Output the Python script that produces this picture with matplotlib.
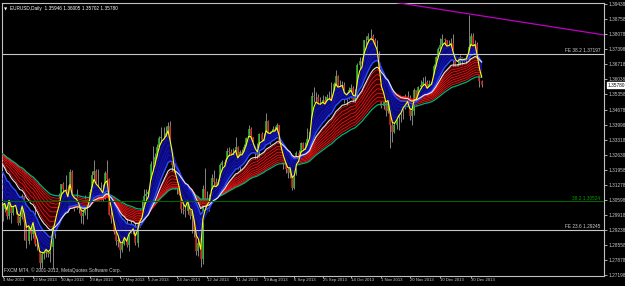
import numpy as np
import pandas as pd
import matplotlib
matplotlib.use("Agg")
import matplotlib.pyplot as plt
import matplotlib.transforms as mtransforms

plt.rcParams['font.family'] = ['Liberation Sans', 'DejaVu Sans']

symbol = "EURUSD,Daily"

# daily closes Jan 2 - Mar 1 2013, only used to warm up the averages
warmup_close = [
    1.3190, 1.3050, 1.3070,
    1.3115, 1.3080, 1.3070, 1.3275, 1.3345,
    1.3365, 1.3290, 1.3285, 1.3380, 1.3315,
    1.3315, 1.3320, 1.3310, 1.3385, 1.3460,
    1.3450, 1.3470, 1.3560, 1.3575, 1.3640,
    1.3520, 1.3525, 1.3525, 1.3400, 1.3365,
    1.3400, 1.3450, 1.3455, 1.3360, 1.3365,
    1.3360, 1.3395, 1.3280, 1.3190, 1.3190,
    1.3060, 1.3060, 1.3130, 1.3060, 1.3020,
]

# daily bars 4 Mar 2013 - 6 Jan 2014, one row per week
first_open = 1.3015
high = [
    1.3055, 1.3070, 1.3060, 1.3110, 1.3115,
    1.3045, 1.3060, 1.3050, 1.3010, 1.3085,
    1.3000, 1.2965, 1.2955, 1.2965, 1.3010,
    1.3050, 1.2905, 1.2860, 1.2835, 1.2830,
    1.2865, 1.2880, 1.2865, 1.3000, 1.3035,
    1.3055, 1.3090, 1.3130, 1.3140, 1.3170,
    1.3125, 1.3200, 1.3195, 1.3075, 1.3110,
    1.3070, 1.3045, 1.3030, 1.3080, 1.3065,
    1.3110, 1.3190, 1.3240, 1.3200, 1.3200,
    1.3140, 1.3130, 1.3190, 1.3240, 1.3160,
    1.3020, 1.2995, 1.2935, 1.2930, 1.2890,
    1.2915, 1.2925, 1.2995, 1.2945, 1.2970,
    1.2950, 1.2965, 1.2965, 1.3020, 1.3060,
    1.3110, 1.3110, 1.3105, 1.3235, 1.3305,
    1.3270, 1.3310, 1.3350, 1.3390, 1.3390,
    1.3395, 1.3410, 1.3416, 1.3290, 1.3225,
    1.3200, 1.3185, 1.3095, 1.3065, 1.3065,
    1.3095, 1.3080, 1.3045, 1.3010, 1.2935,
    1.2880, 1.2890, 1.3125, 1.3205, 1.3100,
    1.3085, 1.3175, 1.3195, 1.3160, 1.3155,
    1.3225, 1.3240, 1.3245, 1.3295, 1.3300,
    1.3290, 1.3295, 1.3345, 1.3305, 1.3285,
    1.3290, 1.3310, 1.3345, 1.3400, 1.3390,
    1.3345, 1.3305, 1.3315, 1.3360, 1.3365,
    1.3360, 1.3450, 1.3420, 1.3370, 1.3395,
    1.3395, 1.3405, 1.3400, 1.3325, 1.3250,
    1.3230, 1.3225, 1.3225, 1.3205, 1.3195,
    1.3280, 1.3285, 1.3320, 1.3320, 1.3320,
    1.3385, 1.3370, 1.3545, 1.3570, 1.3545,
    1.3540, 1.3525, 1.3535, 1.3530, 1.3540,
    1.3550, 1.3590, 1.3590, 1.3645, 1.3625,
    1.3600, 1.3595, 1.3590, 1.3545, 1.3570,
    1.3585, 1.3575, 1.3560, 1.3680, 1.3705,
    1.3705, 1.3780, 1.3800, 1.3815, 1.3832,
    1.3810, 1.3790, 1.3780, 1.3730, 1.3585,
    1.3525, 1.3525, 1.3535, 1.3545, 1.3455,
    1.3435, 1.3445, 1.3480, 1.3480, 1.3505,
    1.3540, 1.3550, 1.3535, 1.3475, 1.3565,
    1.3555, 1.3575, 1.3600, 1.3615, 1.3620,
    1.3600, 1.3600, 1.3600, 1.3675, 1.3710,
    1.3750, 1.3790, 1.3810, 1.3790, 1.3765,
    1.3780, 1.3790, 1.3810, 1.3705, 1.3700,
    1.3715, 1.3705, 1.3700, 1.3715, 1.3893,
    1.3815, 1.3815, 1.3780, 1.3775, 1.3675,
    1.36005,
]
low = [
    1.2965, 1.3005, 1.2975, 1.2975, 1.2955,
    1.2990, 1.2995, 1.2945, 1.2945, 1.2975,
    1.2880, 1.2840, 1.2860, 1.2880, 1.2885,
    1.2850, 1.2835, 1.2750, 1.2750, 1.2790,
    1.2800, 1.2800, 1.2780, 1.2745, 1.2885,
    1.2965, 1.3020, 1.3050, 1.3080, 1.3080,
    1.3030, 1.3035, 1.3030, 1.3010, 1.3020,
    1.3000, 1.2955, 1.2950, 1.2990, 1.2975,
    1.3030, 1.3070, 1.3150, 1.3085, 1.3060,
    1.3060, 1.3055, 1.3065, 1.3140, 1.2990,
    1.2955, 1.2905, 1.2855, 1.2845, 1.2795,
    1.2825, 1.2855, 1.2845, 1.2830, 1.2910,
    1.2905, 1.2855, 1.2845, 1.2935, 1.2985,
    1.2980, 1.3035, 1.3050, 1.3085, 1.3185,
    1.3200, 1.3235, 1.3265, 1.3315, 1.3300,
    1.3320, 1.3345, 1.3260, 1.3170, 1.3110,
    1.3085, 1.3080, 1.3000, 1.2995, 1.2980,
    1.2995, 1.2975, 1.2910, 1.2890, 1.2810,
    1.2805, 1.2755, 1.2770, 1.3025, 1.3015,
    1.3010, 1.3055, 1.3115, 1.3090, 1.3110,
    1.3135, 1.3185, 1.3175, 1.3215, 1.3235,
    1.3250, 1.3225, 1.3215, 1.3200, 1.3190,
    1.3230, 1.3255, 1.3270, 1.3325, 1.3320,
    1.3280, 1.3245, 1.3235, 1.3240, 1.3305,
    1.3315, 1.3325, 1.3335, 1.3310, 1.3335,
    1.3355, 1.3350, 1.3310, 1.3235, 1.3200,
    1.3180, 1.3160, 1.3160, 1.3105, 1.3110,
    1.3170, 1.3230, 1.3240, 1.3270, 1.3255,
    1.3310, 1.3330, 1.3350, 1.3500, 1.3505,
    1.3480, 1.3460, 1.3480, 1.3470, 1.3480,
    1.3440, 1.3500, 1.3500, 1.3570, 1.3545,
    1.3545, 1.3545, 1.3495, 1.3490, 1.3515,
    1.3520, 1.3500, 1.3480, 1.3520, 1.3650,
    1.3645, 1.3670, 1.3735, 1.3760, 1.3775,
    1.3770, 1.3730, 1.3705, 1.3575, 1.3475,
    1.3470, 1.3440, 1.3450, 1.3295, 1.3320,
    1.3360, 1.3380, 1.3375, 1.3410, 1.3425,
    1.3470, 1.3485, 1.3420, 1.3400, 1.3445,
    1.3490, 1.3495, 1.3545, 1.3575, 1.3575,
    1.3535, 1.3530, 1.3540, 1.3565, 1.3620,
    1.3695, 1.3730, 1.3755, 1.3720, 1.3700,
    1.3715, 1.3745, 1.3655, 1.3640, 1.3625,
    1.3670, 1.3670, 1.3685, 1.3675, 1.3695,
    1.3745, 1.3745, 1.3745, 1.3655, 1.3570,
    1.35702,
]
close = [
    1.3020, 1.3050, 1.2985, 1.3100, 1.3000,
    1.3030, 1.3040, 1.2955, 1.2980, 1.3075,
    1.2960, 1.2875, 1.2950, 1.2905, 1.2990,
    1.2860, 1.2850, 1.2775, 1.2815, 1.2820,
    1.2850, 1.2815, 1.2845, 1.2990, 1.2995,
    1.3045, 1.3070, 1.3130, 1.3110, 1.3110,
    1.3045, 1.3185, 1.3035, 1.3055, 1.3055,
    1.3025, 1.2985, 1.3000, 1.3030, 1.3030,
    1.3095, 1.3170, 1.3190, 1.3110, 1.3110,
    1.3095, 1.3075, 1.3180, 1.3155, 1.2990,
    1.2975, 1.2915, 1.2875, 1.2880, 1.2835,
    1.2860, 1.2915, 1.2855, 1.2935, 1.2930,
    1.2940, 1.2865, 1.2945, 1.3000, 1.2995,
    1.3075, 1.3085, 1.3095, 1.3220, 1.3220,
    1.3255, 1.3300, 1.3340, 1.3345, 1.3345,
    1.3360, 1.3395, 1.3280, 1.3215, 1.3120,
    1.3120, 1.3085, 1.3020, 1.3015, 1.3010,
    1.3080, 1.2985, 1.3010, 1.2920, 1.2830,
    1.2865, 1.2790, 1.3110, 1.3050, 1.3065,
    1.3065, 1.3160, 1.3140, 1.3115, 1.3140,
    1.3215, 1.3230, 1.3220, 1.3280, 1.3275,
    1.3265, 1.3270, 1.3300, 1.3215, 1.3275,
    1.3265, 1.3300, 1.3340, 1.3380, 1.3345,
    1.3295, 1.3265, 1.3260, 1.3355, 1.3330,
    1.3335, 1.3415, 1.3350, 1.3360, 1.3380,
    1.3370, 1.3400, 1.3320, 1.3240, 1.3220,
    1.3200, 1.3180, 1.3205, 1.3115, 1.3180,
    1.3270, 1.3250, 1.3315, 1.3290, 1.3295,
    1.3335, 1.3365, 1.3530, 1.3525, 1.3525,
    1.3485, 1.3490, 1.3510, 1.3485, 1.3525,
    1.3525, 1.3500, 1.3585, 1.3620, 1.3555,
    1.3575, 1.3580, 1.3510, 1.3525, 1.3555,
    1.3565, 1.3510, 1.3525, 1.3670, 1.3685,
    1.3675, 1.3780, 1.3780, 1.3800, 1.3800,
    1.3780, 1.3740, 1.3715, 1.3580, 1.3485,
    1.3515, 1.3460, 1.3515, 1.3400, 1.3365,
    1.3400, 1.3435, 1.3460, 1.3465, 1.3500,
    1.3500, 1.3520, 1.3440, 1.3460, 1.3555,
    1.3515, 1.3570, 1.3580, 1.3590, 1.3590,
    1.3545, 1.3585, 1.3590, 1.3665, 1.3705,
    1.3740, 1.3760, 1.3785, 1.3780, 1.3740,
    1.3760, 1.3770, 1.3685, 1.3665, 1.3675,
    1.3705, 1.3690, 1.3695, 1.3700, 1.3750,
    1.3800, 1.3750, 1.3765, 1.3665, 1.35946,
    1.35780,
]

# date labels and the bar they sit on
date_pos = [0, 14, 27, 40, 54, 67, 80, 94, 107, 120, 134, 147, 160, 174, 187, 201, 215]
date_labels = ["4 Mar 2013", "22 Mar 2013", "10 Apr 2013", "29 Apr 2013", "17 May 2013",
               "5 Jun 2013", "24 Jun 2013", "12 Jul 2013", "31 Jul 2013", "19 Aug 2013",
               "6 Sep 2013", "25 Sep 2013", "14 Oct 2013", "1 Nov 2013", "20 Nov 2013",
               "10 Dec 2013", "30 Dec 2013"]

# price scale labels
price_ticks = [1.27198 + 0.0068 * k for k in range(19)]

# objects drawn on the chart
fe382 = 1.37197
fe236 = 1.29245
fib382 = 1.30524
trend_x = [176.5, 276.2]
trend_y = [1.3958, 1.3805]

fast_periods = [5, 8, 10, 12]
slow_periods = [22, 26, 30, 35, 40, 45, 50, 55]

opens = [first_open] + close[:-1]
o = np.array(opens)
h = np.array(high)
l = np.array(low)
c = np.array(close)
x = np.arange(len(c))

allc = pd.Series(warmup_close + close)
n0 = len(warmup_close)


def ema(p):
    return allc.ewm(span=p, adjust=False).mean().to_numpy()[n0:]


fig = plt.figure(figsize=(6.25, 2.86), dpi=100, facecolor='black')
ax = fig.add_axes([2 / 625, 10 / 286, 602 / 625, 273 / 286])
ax.set_facecolor('black')

# candles
ax.vlines(x, np.minimum(l, np.minimum(o, c)), np.maximum(h, np.maximum(o, c)),
          color='#9a9a9a', lw=0.6, zorder=2)
up = c >= o
ax.vlines(x[up], o[up], c[up], color='#2fbf2f', lw=1.1, zorder=2)
ax.vlines(x[~up], c[~up], o[~up], color='#d82222', lw=1.1, zorder=2)

# slow group
ax.fill_between(x, ema(slow_periods[0]), ema(slow_periods[-1]), color='#3c0000', lw=0, zorder=3)
for p in slow_periods:
    ax.plot(x, ema(p), color='#ff1a1a', lw=0.5, zorder=4)
ax.plot(x, ema(60), color='#00b27a', lw=0.9, zorder=4)

# fast group
ax.fill_between(x, ema(3), ema(15), color='#0a0a7a', lw=0, zorder=5)
for p in fast_periods:
    ax.plot(x, ema(p), color='#1e1ed8', lw=0.35, zorder=6)
ax.plot(x, ema(15), color='#2f4cff', lw=1.0, zorder=6)
ax.plot(x, ema(20), color='#e6e6e6', lw=0.8, zorder=6)
ax.plot(x, ema(3), color='#ffff00', lw=0.8, zorder=7)

# levels and trend line
ax.axhline(fe382, color='#c8c8c8', lw=0.8, zorder=8)
ax.axhline(fe236, color='#c8c8c8', lw=0.8, zorder=8)
ax.axhline(fib382, color='#006400', lw=0.8, zorder=8)
ax.plot(trend_x, trend_y, color='#c000c0', lw=0.9, zorder=8, clip_on=True)

fs = 3.4
ax.text(274.5, fe382 + 0.0003, f"FE 38.2 {fe382:.5f}", color='#d0d0d0', fontsize=fs,
        ha='right', va='bottom', zorder=9)
ax.text(274.5, fe236 + 0.0003, f"FE 23.6 {fe236:.5f}", color='#d0d0d0', fontsize=fs,
        ha='right', va='bottom', zorder=9)
ax.text(274.5, fib382 + 0.0003, f"38.2 {fib382:.5f}", color='#00a000', fontsize=fs,
        ha='right', va='bottom', zorder=9)

ax.set_xlim(-0.23, 276.2)
ax.set_ylim(1.27153, 1.39492)

for s in ax.spines.values():
    s.set_color('#c0c0c0')
    s.set_linewidth(0.8)

ax.yaxis.tick_right()
ax.set_yticks(price_ticks)
ax.set_yticklabels([f"{v:.5f}" for v in price_ticks])
ax.tick_params(axis='y', colors='#c8c8c8', labelsize=fs, length=2, width=0.6, pad=1)
ax.set_xticks(date_pos)
ax.set_xticklabels(date_labels, ha='left')
ax.tick_params(axis='x', colors='#c8c8c8', labelsize=3.1, length=1.5, width=0.6, pad=0.2)

# current price box
tr = mtransforms.blended_transform_factory(ax.transAxes, ax.transData)
ax.text(1.006, c[-1], f"{c[-1]:.5f}", transform=tr, color='black', fontsize=fs,
        ha='left', va='center', zorder=10, clip_on=False,
        bbox=dict(boxstyle='square,pad=0.15', fc='white', ec='white'))

# header and footer
ax.text(0.004, 0.985, "\u25bc", transform=ax.transAxes, color='white', fontsize=3,
        ha='left', va='top', family='DejaVu Sans')
ax.text(0.014, 0.988, f"{symbol}  {o[-1]:.5f} {h[-1]:.5f} {l[-1]:.5f} {c[-1]:.5f}",
        transform=ax.transAxes, color='white', fontsize=fs, ha='left', va='top')
ax.text(0.004, 0.012, "FXCM MT4, \u00a9 2001-2013, MetaQuotes Software Corp.",
        transform=ax.transAxes, color='#d0d0d0', fontsize=fs, ha='left', va='bottom')

fig.savefig('out.png', dpi=100, facecolor='black')
